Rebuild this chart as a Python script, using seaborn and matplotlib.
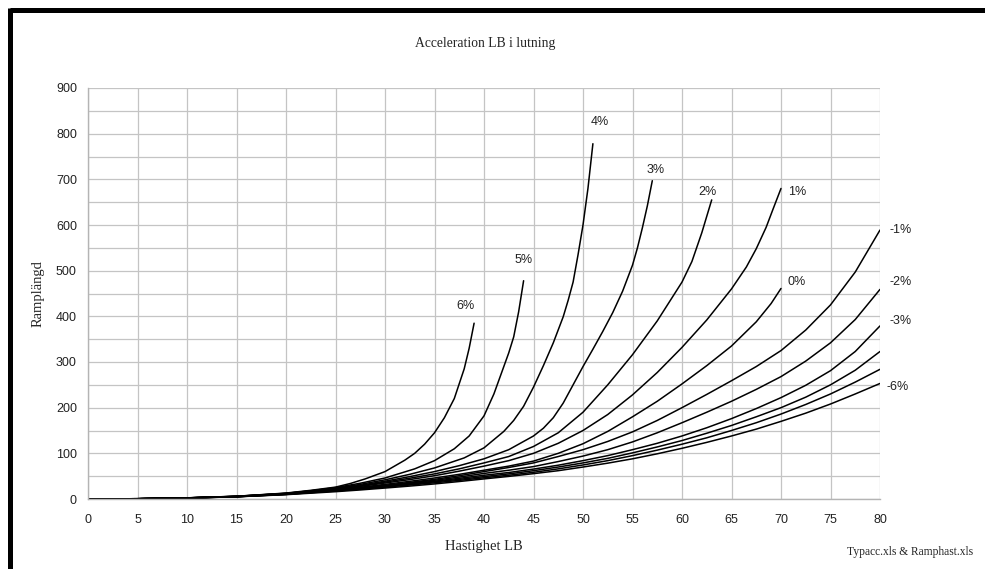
import matplotlib
matplotlib.use("Agg")
import matplotlib.pyplot as plt
from matplotlib.lines import Line2D
import seaborn as sns
import pandas as pd

# ---- data ----
v_p6 = [0, 5, 10, 15, 20, 22.5, 25, 26.5, 28, 30, 32, 33, 34, 35, 36, 37, 38, 38.5, 39]
L_p6 = [0, 0.6, 2.5, 6, 13, 19, 26, 34, 44, 60, 85, 100, 120, 145, 178, 220, 285, 330, 385]

v_p5 = [0, 5, 10, 15, 20, 22.5, 25, 27.5, 30, 33, 35, 37, 38.5, 40, 41, 42, 42.5, 43, 43.5, 44]
L_p5 = [0, 0.6, 2.5, 6, 12.5, 18, 25, 34.5, 46, 66, 84, 110, 138, 182, 230, 290, 320, 355, 410, 478]

v_p4 = [0, 5, 10, 15, 20, 25, 27.5, 30, 32.5, 35, 38, 40, 42, 43, 44, 45, 46, 47, 48, 48.5, 49, 49.5, 50, 50.5, 51]
L_p4 = [0, 0.6, 2.4, 5.8, 12.2, 23.5, 32, 42, 54, 68, 90, 112, 148, 172, 203, 245, 292, 342, 399, 435, 475, 535, 600, 680, 778]

v_p3 = [0, 5, 10, 15, 20, 25, 27.5, 30, 32.5, 35, 37.5, 40, 42.5, 45, 46, 47, 48, 49, 50, 51, 52, 53, 54, 55, 55.5, 56, 56.5, 57]
L_p3 = [0, 0.6, 2.4, 5.7, 12, 22.5, 30, 39, 49, 60, 73, 88, 108, 138, 155, 178, 210, 250, 290, 328, 367, 408, 455, 512, 550, 594, 642, 697]

v_p2 = [0, 5, 10, 15, 20, 25, 27.5, 30, 32.5, 35, 37.5, 40, 42.5, 45, 47.5, 50, 52.5, 55, 57.5, 60, 61, 62, 63]
L_p2 = [0, 0.6, 2.4, 5.6, 11.8, 21.5, 28.5, 37, 45.5, 55, 66, 79, 93, 115, 145, 190, 250, 316, 390, 475, 520, 583, 655]

v_p1 = [0, 5, 10, 15, 20, 25, 27.5, 30, 32.5, 35, 37.5, 40, 42.5, 45, 47.5, 50, 52.5, 55, 57.5, 60, 62.5, 65, 66.5, 67.5, 68.5, 69.2, 70]
L_p1 = [0, 0.6, 2.3, 5.5, 11.5, 21, 27.5, 35, 42.5, 51, 61, 72, 84, 100, 122, 150, 185, 228, 277, 332, 392, 460, 508, 548, 595, 635, 680]

v_0 = [0, 5, 10, 15, 20, 25, 27.5, 30, 32.5, 35, 37.5, 40, 42.5, 45, 47.5, 50, 52.5, 55, 57.5, 60, 62.5, 65, 67.5, 69, 70]
L_0 = [0, 0.5, 2.3, 5.4, 11.2, 20, 25.7, 32, 38.7, 46, 54, 63, 72, 83, 100, 121, 148, 180, 214, 252, 292, 335, 388, 428, 461]

# -1% ... -6% share the same speeds
v_neg = [0, 5, 10, 15, 20, 25, 27.5, 30, 32.5, 35, 37.5, 40, 42.5, 45, 47.5, 50, 52.5, 55, 57.5,
         60, 62.5, 65, 67.5, 70, 72.5, 75, 77.5, 80]
L_m1 = [0, 0.5, 2.2, 5.3, 11, 19.5, 24.5, 30, 36.3, 43, 51, 60, 69, 79, 93, 108, 126, 147, 172,
        200, 229, 259, 290, 325, 370, 425, 497, 589]
L_m2 = [0, 0.5, 2.2, 5.2, 10.7, 19, 23.8, 29, 34.8, 41, 48, 56, 63, 71, 82, 94, 108, 125, 145,
        167, 190, 214, 240, 268, 302, 342, 393, 459]
L_m3 = [0, 0.5, 2.1, 5.1, 10.4, 18.5, 23, 28, 33.3, 39, 45.3, 52, 58, 65.5, 74, 84, 95, 108, 122,
        138, 156, 176, 198, 222, 249, 281, 323, 379]
L_m4 = [0, 0.5, 2.1, 5.0, 10.2, 18, 22.2, 27, 32, 37.5, 43, 49, 55, 62, 70, 79, 89, 101, 114,
        128, 144, 161, 180, 200, 223, 250, 282, 323]
L_m5 = [0, 0.5, 2.0, 4.9, 10, 17.5, 21.5, 26, 30.6, 35.5, 40.8, 46.5, 52, 58.5, 66, 74.5, 84, 95, 107,
        120, 134, 150, 167, 186, 207, 230, 256, 284]
L_m6 = [0, 0.5, 2.0, 4.8, 9.5, 16, 19.8, 24, 28.3, 33, 38.3, 44, 49.5, 55.5, 62, 70, 78.5, 88, 99,
        111, 124, 138, 153, 170, 188, 208, 230, 253]

grades = ["6%", "5%", "4%", "3%", "2%", "1%", "0%", "-1%", "-2%", "-3%", "-4%", "-5%", "-6%"]
series = [(v_p6, L_p6), (v_p5, L_p5), (v_p4, L_p4), (v_p3, L_p3), (v_p2, L_p2),
          (v_p1, L_p1), (v_0, L_0), (v_neg, L_m1), (v_neg, L_m2), (v_neg, L_m3),
          (v_neg, L_m4), (v_neg, L_m5), (v_neg, L_m6)]

# curve labels (data coords)
label_text = ["6%", "5%", "4%", "3%", "2%", "1%", "0%", "-1%", "-2%", "-3%", "-6%"]
label_x = [38.1, 44.0, 51.7, 57.3, 62.6, 71.6, 71.6, 82.1, 82.1, 82.1, 81.8]
label_y = [422, 523, 826, 720, 673, 673, 476, 589, 476, 390, 246]

rows = []
for g, (vs, Ls) in zip(grades, series):
    for v, L in zip(vs, Ls):
        rows.append({"grade": g, "v": v, "L": L})
df = pd.DataFrame(rows)

sns.set_style("white")
plt.rcParams["font.family"] = ["Liberation Sans", "DejaVu Sans"]

fig = plt.figure(figsize=(9.85, 5.69), dpi=100)
ax = fig.add_axes([88 / 985, 1 - 499 / 569, (880 - 88) / 985, (499 - 88) / 569])

sns.lineplot(data=df, x="v", y="L", units="grade", estimator=None,
             color="black", linewidth=1.1, ax=ax, legend=False, sort=False)
for ln in ax.get_lines():
    ln.set_solid_joinstyle("round")

ax.set_xlim(0, 80)
ax.set_ylim(0, 900)
ax.set_xticks(range(0, 81, 5))
ax.set_yticks(range(0, 901, 100))
ax.set_yticks(range(50, 900, 100), minor=True)
ax.grid(True, which="both", color="#c4c4c4", linewidth=0.9)
ax.set_axisbelow(True)
for s in ["top", "right"]:
    ax.spines[s].set_visible(False)
for s in ["left", "bottom"]:
    ax.spines[s].set_color("#b4b4b4")
    ax.spines[s].set_linewidth(1.0)
ax.tick_params(axis="both", which="major", direction="out", length=4,
               color="#b4b4b4", labelsize=9, labelcolor="#222222", pad=4)
ax.tick_params(axis="y", which="minor", length=0)
ax.tick_params(axis="x", pad=7)

serif = ["Liberation Serif", "DejaVu Serif"]
ax.set_xlabel("Hastighet LB", family=serif, fontsize=10.5, labelpad=10)
ax.set_ylabel("Ramplängd", family=serif, fontsize=10.5, labelpad=8)

for t, x, y in zip(label_text, label_x, label_y):
    ax.text(x, y, t, ha="center", va="center", fontsize=9, color="#222222",
            clip_on=False)

fig.text(485 / 985, 1 - 44 / 569, "Acceleration LB i lutning", family=serif,
         fontsize=9.8, ha="center", va="center")
fig.text(973 / 985, 1 - 552 / 569, "Typacc.xls & Ramphast.xls", family=serif,
         fontsize=8.3, ha="right", va="center")

# black frame on top and left
fig.add_artist(Line2D([9.5 / 985, 1.0], [1 - 10 / 569, 1 - 10 / 569],
                      transform=fig.transFigure, color="black", linewidth=3.6,
                      solid_capstyle="butt"))
fig.add_artist(Line2D([9.5 / 985, 9.5 / 985], [0, 1 - 8 / 569],
                      transform=fig.transFigure, color="black", linewidth=3.6,
                      solid_capstyle="butt"))

fig.savefig("out.png", dpi=100)
